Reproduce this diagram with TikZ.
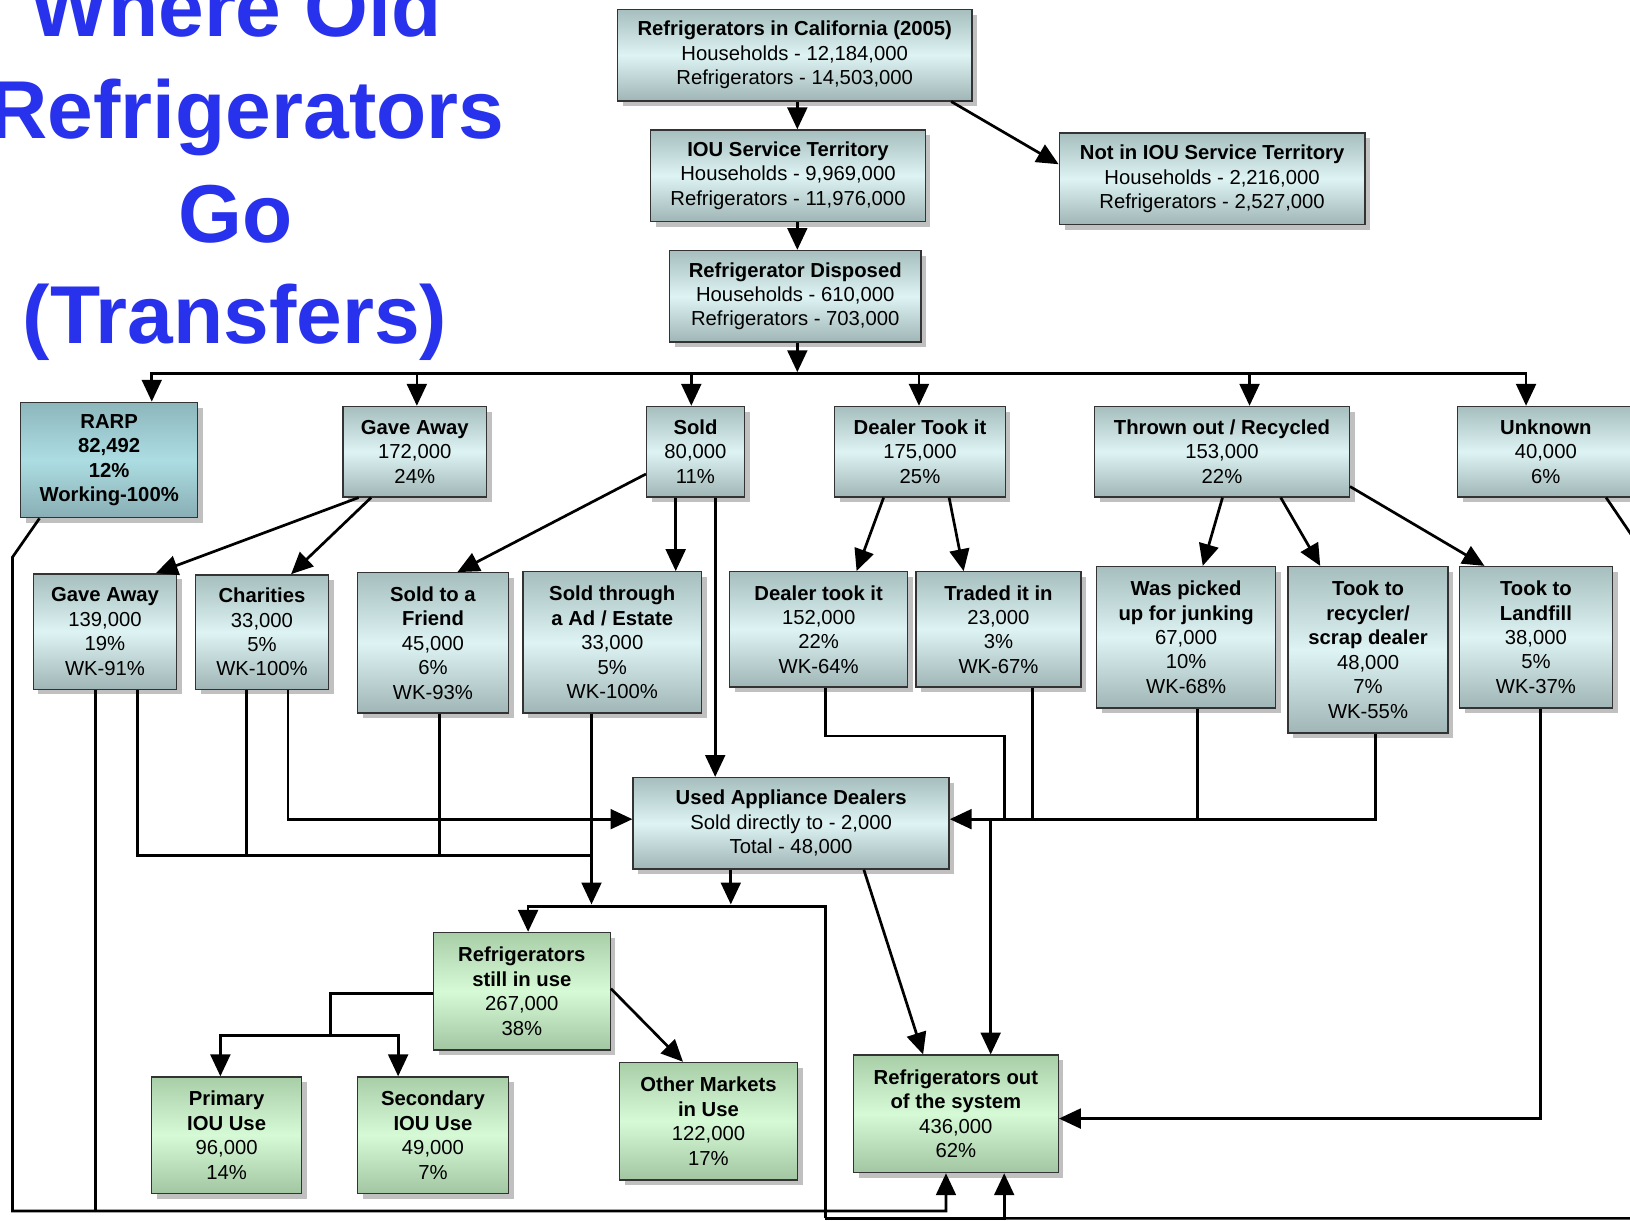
\documentclass[tikz,border=0pt]{standalone}
\usepackage{fontspec}
\setmainfont{Liberation Sans}
\usetikzlibrary{arrows.meta,shadows}
\definecolor{ttop}{RGB}{166,190,190}
\definecolor{tmid}{RGB}{222,243,243}
\definecolor{tbot}{RGB}{160,182,182}
\definecolor{rtop}{RGB}{140,182,188}
\definecolor{rmid}{RGB}{172,221,226}
\definecolor{rbot}{RGB}{136,174,180}
\definecolor{gtop}{RGB}{168,206,168}
\definecolor{gmid}{RGB}{214,250,214}
\definecolor{gbot}{RGB}{162,198,162}
\definecolor{titleblue}{RGB}{40,50,236}
\begin{document}
\begin{tikzpicture}[x=1pt,y=-1pt,
  bx/.style={draw=black!80, line width=1.3pt, align=center, inner sep=0pt,
    font=\fontsize{19.5}{23.5}\selectfont,
    drop shadow={shadow xshift=5pt, shadow yshift=-5pt, opacity=.35, fill=black!70}},
  teal/.style={bx, top color=ttop, bottom color=tbot, middle color=tmid},
  rarpbox/.style={bx, top color=rtop, bottom color=rbot, middle color=rmid},
  green/.style={bx, top color=gtop, bottom color=gbot, middle color=gmid},
  sz/.style 2 args={minimum width=#1pt, minimum height=#2pt},
  conn/.style={line width=2.6pt, black},
  arr/.style={conn, -{Triangle[length=21pt,width=19pt]}},
  ttl/.style={anchor=base, text=titleblue, font=\fontsize{79}{97}\selectfont\bfseries, inner sep=0pt}
]
\useasboundingbox (0,0) rectangle (1568,1174);
\clip (0,0) rectangle (1568,1174);
\fill[white] (0,0) rectangle (1568,1174);

% title
\node[ttl] (t1) at (227,35) {Where Old};
\node[ttl] (t2) at (237,133) {Refrigerators};
\node[ttl] (t3) at (227,233) {Go};
\node[ttl] (t4) at (226,330) {(Transfers)};

% top chain
\node[teal, sz={341}{88}] (ca) at (764.5,53) {\textbf{Refrigerators in California (2005)}\\Households - 12,184,000\\Refrigerators - 14,503,000};
\node[teal, sz={264}{88}] (iou) at (758,169) {\textbf{IOU Service Territory}\\Households - 9,969,000\\Refrigerators - 11,976,000};
\node[teal, sz={294}{88}] (notiou) at (1166,172) {\textbf{Not in IOU Service Territory}\\Households - 2,216,000\\Refrigerators - 2,527,000};
\node[teal, sz={242}{88}] (disp) at (765,285) {\textbf{Refrigerator Disposed}\\Households - 610,000\\Refrigerators - 703,000};

% first row
\node[rarpbox, sz={170}{111}] (rarp) at (105,442.5) {\textbf{RARP}\\\textbf{82,492}\\\textbf{12\%}\\\textbf{Working-100\%}};
\node[teal, sz={138}{87}] (ga) at (399,434.5) {\textbf{Gave Away}\\172,000\\24\%};
\node[teal, sz={94}{87}] (sold) at (669,434.5) {\textbf{Sold}\\80,000\\11\%};
\node[teal, sz={164}{87}] (dealer) at (885,434.5) {\textbf{Dealer Took it}\\175,000\\25\%};
\node[teal, sz={245}{87}] (thrown) at (1175.5,434.5) {\textbf{Thrown out / Recycled}\\153,000\\22\%};
\node[teal, sz={170}{87}] (unknown) at (1487,434.5) {\textbf{Unknown}\\40,000\\6\%};

% second row
\node[teal, sz={138}{111}] (ga2) at (101,607.5) {\textbf{Gave Away}\\139,000\\19\%\\WK-91\%};
\node[teal, sz={128}{110}] (char) at (252,608) {\textbf{Charities}\\33,000\\5\%\\WK-100\%};
\node[teal, sz={145}{135}] (friend) at (416.5,618.5) {\textbf{Sold to a}\\\textbf{Friend}\\45,000\\6\%\\WK-93\%};
\node[teal, sz={172}{136}] (soldad) at (589,618) {\textbf{Sold through}\\\textbf{a Ad / Estate}\\33,000\\5\%\\WK-100\%};
\node[teal, sz={171}{111}] (dtook) at (787.5,605.5) {\textbf{Dealer took it}\\152,000\\22\%\\WK-64\%};
\node[teal, sz={159}{111}] (traded) at (960.5,605.5) {\textbf{Traded it in}\\23,000\\3\%\\WK-67\%};
\node[teal, sz={172}{136}] (junk) at (1141,613) {\textbf{Was picked}\\\textbf{up for junking}\\67,000\\10\%\\WK-68\%};
\node[teal, sz={154}{160}] (recyc) at (1316,625) {\textbf{Took to}\\\textbf{recycler/}\\\textbf{scrap dealer}\\48,000\\7\%\\WK-55\%};
\node[teal, sz={147}{136}] (landfill) at (1477.5,613) {\textbf{Took to}\\\textbf{Landfill}\\38,000\\5\%\\WK-37\%};

% lower part
\node[teal, sz={304}{88}] (uad) at (761,792) {\textbf{Used Appliance Dealers}\\Sold directly to - 2,000\\Total - 48,000};
\node[green, sz={170}{113}] (rsu) at (502,953.5) {\textbf{Refrigerators}\\\textbf{still in use}\\267,000\\38\%};
\node[green, sz={144}{112}] (primary) at (218,1092) {\textbf{Primary}\\\textbf{IOU Use}\\96,000\\14\%};
\node[green, sz={145}{112}] (secondary) at (416.5,1092) {\textbf{Secondary}\\\textbf{IOU Use}\\49,000\\7\%};
\node[green, sz={171}{113}] (other) at (681.5,1078.5) {\textbf{Other Markets}\\\textbf{in Use}\\122,000\\17\%};
\node[green, sz={197}{113}] (out) at (919.5,1071.5) {\textbf{Refrigerators out}\\\textbf{of the system}\\436,000\\62\%};

% helper coordinates
\coordinate (busL) at (146,359);
\coordinate (busR) at (1468,359);
\coordinate (colL) at (569,823);
\coordinate (mrg) at (508,872);
\coordinate (mrgR) at (794,872);
\coordinate (uadR) at (953,788);
\coordinate (botL) at (12,1165);
\coordinate (botR) at (794,1172);
\coordinate (split) at (318,996);
\coordinate (unk) at (1590,545);

% connectors: top chain
\draw[arr] (ca.south -| 767,0) -- (iou.north -| 767,0);
\draw[arr] (ca.south -| 915,0) -- (notiou.west |- 0,158);
\draw[arr] (iou.south -| 767,0) -- (disp.north -| 767,0);
\draw[arr] (disp.south -| 767,0) -- (767,358);

% bus
\draw[conn, {Triangle[length=21pt,width=19pt]}-{Triangle[length=21pt,width=19pt]}]
  (rarp.north -| busL) -- (busL) -- (busR) -- (unknown.north -| busR);
\draw[arr] (401,359) -- (ga.north -| 401,0);
\draw[arr] (665,359) -- (sold.north -| 665,0);
\draw[arr] (884,359) -- (dealer.north -| 884,0);
\draw[arr] (1202,359) -- (thrown.north -| 1202,0);

% first row to second row
\draw[arr] (ga.south -| 345,0) -- (ga2.north -| 150,0);
\draw[arr] (ga.south -| 357,0) -- (char.north -| 280,0);
\draw[arr] (sold.west |- 0,456) -- (friend.north -| 440,0);
\draw[arr] (sold.south -| 650,0) -- (soldad.north -| 650,0);
\draw[arr] (sold.south -| 688,0) -- (uad.north -| 688,0);
\draw[arr] (dealer.south -| 850,0) -- (dtook.north -| 824,0);
\draw[arr] (dealer.south -| 913,0) -- (traded.north -| 927,0);
\draw[arr] (thrown.south -| 1176,0) -- (junk.north -| 1157,0);
\draw[arr] (thrown.south -| 1232,0) -- (recyc.north -| 1270,0);
\draw[arr] (thrown.east |- 0,468) -- (landfill.north -| 1428,0);

% left collectors
\draw[conn] (ga2.south -| 132,0) |- (colL);
\draw[conn] (char.south -| 237,0) -- (237,823);
\draw[conn] (friend.south -| 423,0) -- (423,823);
\draw[arr] (char.south -| 277,0) |- (uad.west |- 0,788);
\draw[arr] (soldad.south -| colL) -- (569,870);
\draw[arr] (uad.south -| 703,0) -- (703,870);
\draw[arr] (botR) -- (mrgR) -- (mrg) -- (rsu.north -| mrg);

% right collectors
\draw[arr] (recyc.south -| 1323,0) |- (uad.east |- 0,788);
\draw[conn] (junk.south -| 1152,0) -- (1152,788);
\draw[conn] (traded.south -| 993,0) -- (993,788);
\draw[conn] (dtook.south -| 794,0) |- (966,708) -- (966,788);
\draw[arr] (uadR) -- (out.north -| uadR);
\draw[arr] (uad.south -| 831,0) -- (out.north -| 888,0);
\draw[arr] (landfill.south -| 1482,0) |- (out.east |- 0,1076);

% to the bottom
\draw[arr] (rarp.south -| 38,0) -- (12,536) -- (botL) -| (out.south -| 910,0);
\draw[conn] (ga2.south -| 92,0) -- (92,1165);
\draw[conn] (unknown.south -| 1545,0) -- (unk) |- (botR);
\draw[arr] (botR) -| (out.south -| 966,0);

% still in use
\draw[conn] (rsu.west |- 0,956) -| (split);
\draw[arr] (split) -| (primary.north -| 212,0);
\draw[arr] (split) -| (secondary.north -| 383,0);
\draw[arr] (rsu.east |- 0,951) -- (other.north -| 657,0);
\end{tikzpicture}
\end{document}
